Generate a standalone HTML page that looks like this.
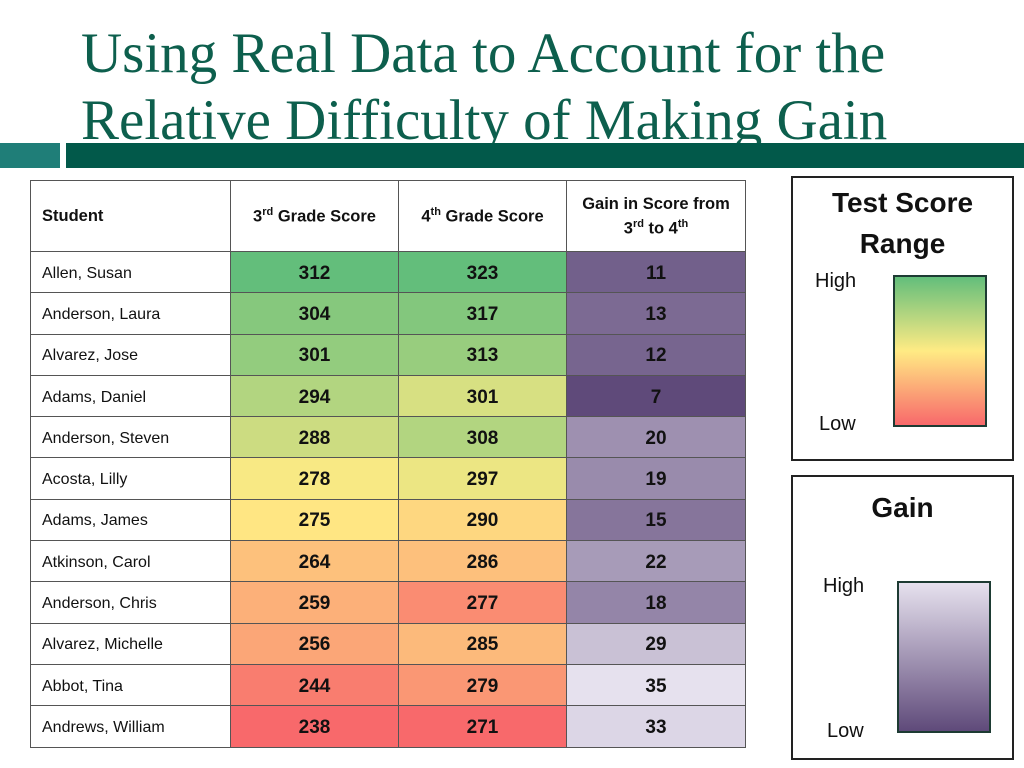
<!DOCTYPE html>
<html><head><meta charset="utf-8">
<style>
body{margin:0;width:1024px;height:768px;background:#fff;position:relative;overflow:hidden;font-family:"Liberation Sans",sans-serif}
#title{position:absolute;left:81px;top:20px;font-family:"Liberation Serif",serif;font-size:57px;line-height:67px;color:#0d5f4d;margin:0;font-weight:normal;white-space:nowrap}
.bar{position:absolute}
table{position:absolute;left:30px;top:180px;border-collapse:collapse;width:715px;table-layout:fixed}
td{border:1px solid #555;height:41.3px;padding:3px 0 0 0;box-sizing:border-box;font-size:17px}
td.name{padding-left:11px;font-size:16px;color:#111}
td.num{text-align:center;font-weight:bold;font-size:19px;color:#111}
th{border:1px solid #555;height:70px;font-size:16.5px;font-weight:bold;color:#111;padding:0}
sup{font-size:11px}
.legend{position:absolute;left:791px;width:219px;border:2px solid #222;background:#fff}
.lt{position:absolute;width:100%;text-align:center;font-weight:bold;font-size:28px;line-height:41px;color:#111}
.lab{position:absolute;font-size:20px;color:#111}
.grad{position:absolute;border:2px solid #1d3b33}
</style></head><body>
<h1 id="title">Using Real Data to Account for the<br>Relative Difficulty of Making Gain</h1>
<div class="bar" style="left:0;top:143px;width:60px;height:25px;background:#1f7e78"></div>
<div class="bar" style="left:66px;top:143px;width:958px;height:25px;background:#02594a"></div>
<table id="tbl">
<colgroup><col style="width:200px"><col style="width:168px"><col style="width:168px"><col style="width:179px"></colgroup>
<tr>
<th style="text-align:left;padding-left:11px">Student</th>
<th>3<sup>rd</sup> Grade Score</th>
<th>4<sup>th</sup> Grade Score</th>
<th style="line-height:20px">Gain in Score from<br>3<sup>rd</sup> to 4<sup>th</sup></th>
</tr>
</table>
<div class="legend" style="top:176px;height:281px">
<div class="lt" style="top:4px">Test Score<br>Range</div>
<div class="lab" style="left:22px;top:92px">High</div>
<div class="lab" style="left:26px;top:235px">Low</div>
<div class="grad" style="left:100px;top:97px;width:90px;height:148px;background:linear-gradient(#63be7b,#ffeb84 50%,#f8696b)"></div>
</div>
<div class="legend" style="top:475px;height:281px">
<div class="lt" style="top:10px">Gain</div>
<div class="lab" style="left:30px;top:98px">High</div>
<div class="lab" style="left:34px;top:243px">Low</div>
<div class="grad" style="left:104px;top:104px;width:90px;height:148px;background:linear-gradient(#e6e1ee,#5f4a7a)"></div>
</div>
<script>
const students=["Allen, Susan","Anderson, Laura","Alvarez, Jose","Adams, Daniel","Anderson, Steven","Acosta, Lilly","Adams, James","Atkinson, Carol","Anderson, Chris","Alvarez, Michelle","Abbot, Tina","Andrews, William"];
const grade3=[312,304,301,294,288,278,275,264,259,256,244,238];
const grade4=[323,317,313,301,308,297,290,286,277,285,279,271];
const gains=[11,13,12,7,20,19,15,22,18,29,35,33];
function mix(a,b,t){return 'rgb('+a.map((v,i)=>Math.round(v+(b[i]-v)*t)).join(',')+')';}
const G=[99,190,123],Y=[255,235,132],R=[248,105,107],PD=[95,74,122],PL=[230,225,238];
function sorted(a){return a.slice().sort((x,y)=>x-y);}
function scoreColor(v,arr){const s=sorted(arr),mn=s[0],mx=s[s.length-1],md=(s[5]+s[6])/2;
 if(v<=md)return mix(R,Y,(v-mn)/(md-mn));return mix(Y,G,(v-md)/(mx-md));}
function gainColor(v,arr){const mn=Math.min(...arr),mx=Math.max(...arr);return mix(PD,PL,(v-mn)/(mx-mn));}
const tbl=document.getElementById('tbl');
students.forEach((n,i)=>{
 const tr=document.createElement('tr');
 
 
 const c0=document.createElement('td');c0.className='name';c0.textContent=n;
 
 
 tr.appendChild(c0);
 [[grade3[i],scoreColor(grade3[i],grade3),'third-grade-score'],[grade4[i],scoreColor(grade4[i],grade4),'fourth-grade-score'],[gains[i],gainColor(gains[i],gains),'gain-value']].forEach(([v,c,nm])=>{
  const td=document.createElement('td');td.className='num';td.textContent=v;td.style.background=c;
  
  
  tr.appendChild(td);
 });
 tbl.appendChild(tr);
});
</script>
</body></html>
